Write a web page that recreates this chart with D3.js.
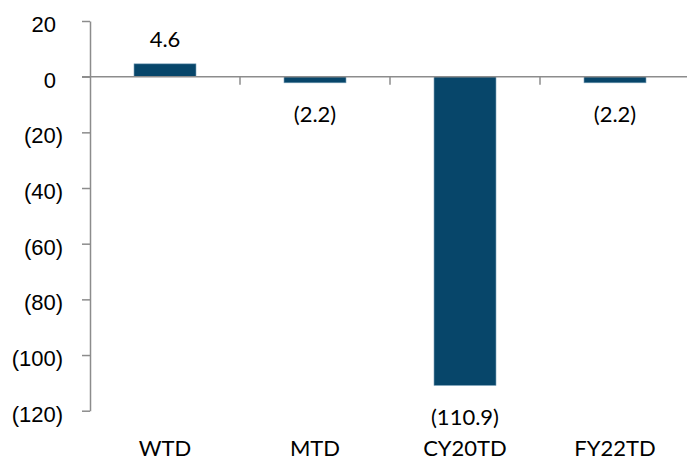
<!DOCTYPE html>
<html>
<head>
<meta charset="utf-8">
<script src="https://cdn.jsdelivr.net/npm/d3@7"></script>
<style>
  html, body { margin: 0; padding: 0; background: #fff; }
  svg { display: block; font-family: Lato, "Open Sans", sans-serif; }
</style>
</head>
<body>
<svg id="chart" width="687" height="459"></svg>
<script>
// Period-to-date change by window
const categories = ["WTD", "MTD", "CY20TD", "FY22TD"];
const values = [4.6, -2.2, -110.9, -2.2];
const yTicks = [20, 0, -20, -40, -60, -80, -100, -120];

const svg = d3.select("#chart");
const axisColor = "#8c8c8c";
const barColor = "#07466a";

const x = d3.scaleBand().domain(categories).range([90, 690]).padding(0);
const y = d3.scaleLinear().domain([-120, 20]).range([410.7, 21]);
const barWidth = x.bandwidth() * 0.413;

const fmtTick = v => v < 0 ? `(${Math.abs(v)})` : `${v}`;
const fmtLabel = v => v < 0 ? `(${Math.abs(v).toFixed(1)})` : v.toFixed(1);

// Bars
svg.append("g").selectAll("rect")
  .data(values)
  .join("rect")
  .attr("x", (d, i) => x(categories[i]) + (x.bandwidth() - barWidth) / 2)
  .attr("y", d => y(Math.max(0, d)))
  .attr("width", barWidth)
  .attr("height", d => Math.abs(y(d) - y(0)))
  .attr("fill", barColor)
  .attr("stroke", "#6f98b3")
  .attr("stroke-width", 0.6);

// Y axis
const yAxis = svg.append("g")
  .attr("transform", "translate(90,0)")
  .call(d3.axisLeft(y).tickValues(yTicks).tickSize(8).tickSizeOuter(0).tickFormat(fmtTick));
yAxis.select(".domain").attr("stroke", axisColor).attr("stroke-width", 1.5);
yAxis.selectAll(".tick line").attr("stroke", axisColor).attr("stroke-width", 1.5);
yAxis.selectAll(".tick text")
  .attr("font-size", 22)
  .attr("fill", "#000")
  .attr("x", -27)
  .attr("dy", null)
  .attr("y", 10.5)
  .attr("dx", d => d >= 0 ? -7 : 0);

// Zero baseline with category ticks
const xAxis = svg.append("g")
  .attr("transform", `translate(0,${y(0)})`)
  .call(d3.axisBottom(x).tickValues([]).tickSizeOuter(0));
xAxis.select(".domain").remove();
xAxis.append("line")
  .attr("x1", 82).attr("x2", 690)
  .attr("stroke", axisColor).attr("stroke-width", 1.5);
xAxis.selectAll("line.sep")
  .data(categories)
  .join("line")
  .attr("class", "sep")
  .attr("x1", d => x(d) + x.bandwidth())
  .attr("x2", d => x(d) + x.bandwidth())
  .attr("y1", 0).attr("y2", 8)
  .attr("stroke", axisColor).attr("stroke-width", 1.5);

// Category labels along the bottom
svg.append("g").selectAll("text")
  .data(categories)
  .join("text")
  .attr("x", d => x(d) + x.bandwidth() / 2)
  .attr("y", 455.5)
  .attr("text-anchor", "middle")
  .attr("font-size", 22)
  .attr("fill", "#000")
  .text(d => d);

// Value labels at the bar ends
svg.append("g").selectAll("text")
  .data(values)
  .join("text")
  .attr("x", (d, i) => x(categories[i]) + x.bandwidth() / 2)
  .attr("y", d => d >= 0 ? y(d) - 17 : y(d) + 39.5)
  .attr("text-anchor", "middle")
  .attr("font-size", 22)
  .attr("fill", "#000")
  .text(d => fmtLabel(d));
</script>
</body>
</html>
